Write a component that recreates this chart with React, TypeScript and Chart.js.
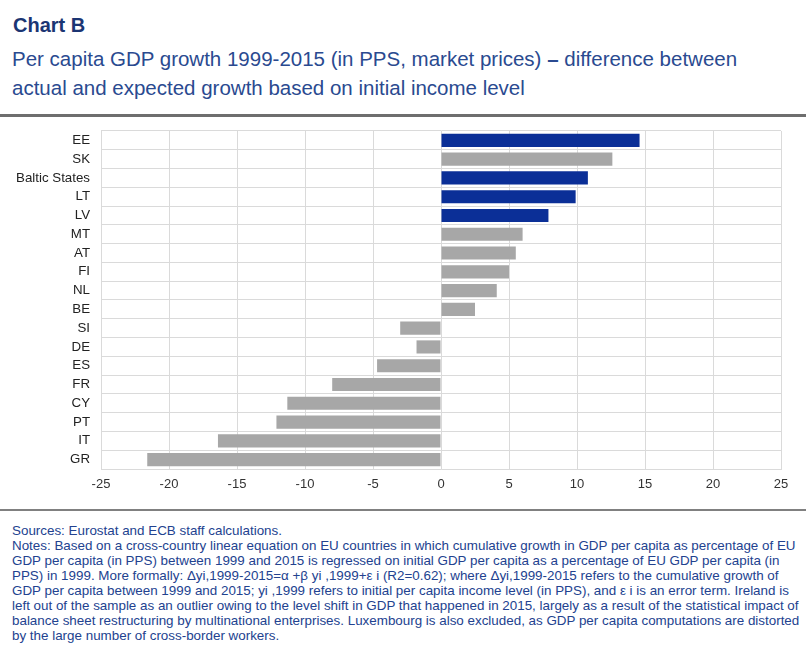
import React, { useEffect, useRef } from "react";
import { Chart, registerables } from "chart.js";

Chart.register(...registerables);

const categories = ["EE", "SK", "Baltic States", "LT", "LV", "MT", "AT", "FI", "NL", "BE", "SI", "DE", "ES", "FR", "CY", "PT", "IT", "GR"];
const values = [14.6, 12.6, 10.8, 9.9, 7.9, 6.0, 5.5, 5.0, 4.1, 2.5, -3.0, -1.8, -4.7, -8.0, -11.3, -12.1, -16.4, -21.6];
const highlighted = ["EE", "Baltic States", "LT", "LV"];
const xMin = -25;
const xMax = 25;
const xStep = 5;

const BLUE = "#0b2f97";
const GREY = "#a7a7a7";
const FONT = "'Liberation Sans', Arial, Helvetica, sans-serif";

const noteLines = [
  "Sources: Eurostat and ECB staff calculations.",
  "Notes: Based on a cross-country linear equation on EU countries in which cumulative growth in GDP per capita as percentage of EU",
  "GDP per capita (in PPS) between 1999 and 2015 is regressed on initial GDP per capita as a percentage of EU GDP per capita (in",
  "PPS) in 1999. More formally: \u0394yi,1999-2015=\u03b1 +\u03b2 yi ,1999+\u03b5 i  (R2=0.62); where \u0394yi,1999-2015 refers to the cumulative growth of",
  "GDP per capita between 1999 and 2015; yi ,1999 refers to initial per capita income level (in PPS), and \u03b5 i  is an error term. Ireland is",
  "left out of the sample as an outlier owing to the level shift in GDP that happened in 2015, largely as a result of the statistical impact of",
  "balance sheet restructuring by multinational enterprises. Luxembourg is also excluded, as GDP per capita computations are distorted",
  "by the large number of cross-border workers.",
];

export default function App() {
  const canvasRef = useRef<HTMLCanvasElement | null>(null);

  useEffect(() => {
    if (!canvasRef.current) return;
    const chart = new Chart(canvasRef.current, {
      type: "bar",
      data: {
        labels: categories,
        datasets: [
          {
            data: values,
            backgroundColor: categories.map((c) => (highlighted.includes(c) ? BLUE : GREY)),
            borderWidth: 0,
            barPercentage: 0.7,
            categoryPercentage: 1.0,
          },
        ],
      },
      options: {
        indexAxis: "y",
        responsive: false,
        animation: false,
        devicePixelRatio: 1,
        layout: { padding: { top: 1, left: 0, right: 25, bottom: 0 } },
        plugins: { legend: { display: false }, tooltip: { enabled: false }, title: { display: false } },
        scales: {
          x: {
            min: xMin,
            max: xMax,
            ticks: { stepSize: xStep, color: "#333", font: { family: FONT, size: 13 }, padding: 8 },
            grid: { color: "#dadada", drawTicks: false },
            border: { display: true, color: "#dadada" },
            afterFit: (s: any) => {
              s.height = 36;
            },
          },
          y: {
            ticks: { color: "#222", font: { family: FONT, size: 13.3 }, padding: 11, autoSkip: false },
            grid: { color: "#dadada", drawTicks: false, offset: true },
            border: { display: true, color: "#dadada" },
            afterFit: (s: any) => {
              s.width = 101;
            },
          },
        },
      },
    });
    return () => chart.destroy();
  }, []);

  return (
    <div
      style={{
        position: "absolute",
        left: 0,
        top: 0,
        width: 806,
        height: 651,
        background: "#fff",
        fontFamily: FONT,
        overflow: "hidden",
      }}
    >
      <div style={{ position: "absolute", left: 13, top: 13, fontSize: 20, lineHeight: "24px", fontWeight: "bold", color: "#1b3573" }}>
        Chart B
      </div>
      <div style={{ position: "absolute", left: 12, top: 44, fontSize: 20.5, lineHeight: "29px", color: "#2a4a90", whiteSpace: "nowrap" }}>
        <div>Per capita GDP growth 1999-2015 (in PPS, market prices) <b>–</b> difference between</div>
        <div>actual and expected growth based on initial income level</div>
      </div>
      <div style={{ position: "absolute", left: 0, top: 114, width: 806, height: 3, background: "#6e6e6e" }} />
      <div style={{ position: "absolute", left: 0, top: 112 }}>
        <canvas ref={canvasRef} width={806} height={393} />
      </div>
      <div style={{ position: "absolute", left: 0, top: 509, width: 806, height: 2, background: "#808080" }} />
      <div style={{ position: "absolute", left: 12, top: 523, fontSize: 13.4, lineHeight: "15px", color: "#22428f", whiteSpace: "nowrap" }}>
        {noteLines.map((l, i) => (
          <div key={i}>{l}</div>
        ))}
      </div>
    </div>
  );
}
